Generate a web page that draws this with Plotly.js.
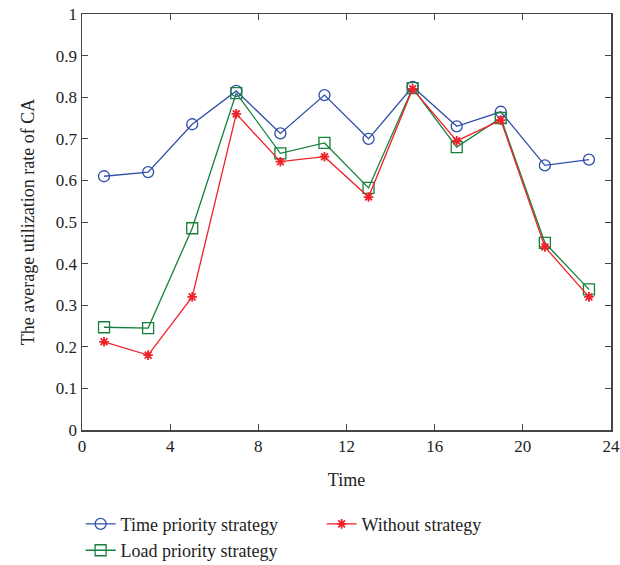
<!DOCTYPE html>
<html><head><meta charset="utf-8">
<script src="https://cdn.plot.ly/plotly-3.0.1.min.js"></script>
<style>body{margin:0;background:#fff}#c{width:620px;height:565px}</style>
</head><body><div id="c"></div>
<script>
const hours = [1, 3, 5, 7, 9, 11, 13, 15, 17, 19, 21, 23];
const timePriority = [0.610, 0.620, 0.735, 0.815, 0.713, 0.805, 0.700, 0.825, 0.730, 0.765, 0.636, 0.650];
const loadPriority = [0.247, 0.245, 0.485, 0.810, 0.665, 0.690, 0.582, 0.822, 0.680, 0.750, 0.450, 0.338];
const withoutStrategy = [0.212, 0.180, 0.320, 0.760, 0.645, 0.657, 0.560, 0.820, 0.695, 0.745, 0.440, 0.320];
const xTicks = [0, 4, 8, 12, 16, 20, 24];
const yTicks = [0, 0.1, 0.2, 0.3, 0.4, 0.5, 0.6, 0.7, 0.8, 0.9, 1];
const yTickText = ['0', '0.1', '0.2', '0.3', '0.4', '0.5', '0.6', '0.7', '0.8', '0.9', '1'];

const FONT = 'Liberation Serif, DejaVu Serif, serif';
const traces = [
  {x: hours, y: timePriority, name: 'Time priority strategy', mode: 'lines+markers', legendrank: 1,
   line: {color: '#2f4fa8', width: 1.3},
   marker: {symbol: 'circle-open', size: 11, color: '#2f4fa8', line: {width: 1.3}}},
  {x: hours, y: loadPriority, name: 'Load priority strategy', mode: 'lines+markers', legendrank: 3,
   line: {color: '#16803c', width: 1.3},
   marker: {symbol: 'square-open', size: 11, color: '#16803c', line: {width: 1.3}}},
  {x: hours, y: withoutStrategy, name: 'Without strategy', mode: 'lines+markers', legendrank: 2,
   line: {color: '#ee2229', width: 1.3},
   marker: {symbol: 'asterisk-open', size: 8, color: '#ee2229', line: {width: 1.8, color: '#ee2229'}}}
];
const axisCommon = {
  showline: true, linecolor: '#444', linewidth: 1.5, mirror: 'allticks',
  ticks: 'inside', ticklen: 6, tickcolor: '#444', showgrid: false, zeroline: false,
  tickfont: {family: FONT, size: 17, color: '#222'}
};
const layout = {
  width: 620, height: 565,
  margin: {l: 82, r: 9, t: 14, b: 135},
  paper_bgcolor: '#fff', plot_bgcolor: '#fff',
  font: {family: FONT, color: '#222'},
  xaxis: Object.assign({}, axisCommon, {range: [0, 24], tickvals: xTicks,
    title: {text: 'Time', font: {family: FONT, size: 18, color: '#222'}, standoff: 18}}),
  yaxis: Object.assign({}, axisCommon, {range: [0, 1], tickvals: yTicks, ticktext: yTickText,
    title: {text: 'The average utilization rate of CA', font: {family: FONT, size: 18, color: '#222'}, standoff: 16}}),
  showlegend: true,
  legend: {orientation: 'h', xref: 'container', yref: 'container', x: 0.13, xanchor: 'left', y: 0.105, yanchor: 'top',
    entrywidth: 196, entrywidthmode: 'pixels', traceorder: 'normal',
    font: {family: FONT, size: 18, color: '#222'}, bgcolor: 'rgba(0,0,0,0)', tracegroupgap: 0}
};
Plotly.newPlot('c', traces, layout, {displayModeBar: false, staticPlot: true});
</script></body></html>
